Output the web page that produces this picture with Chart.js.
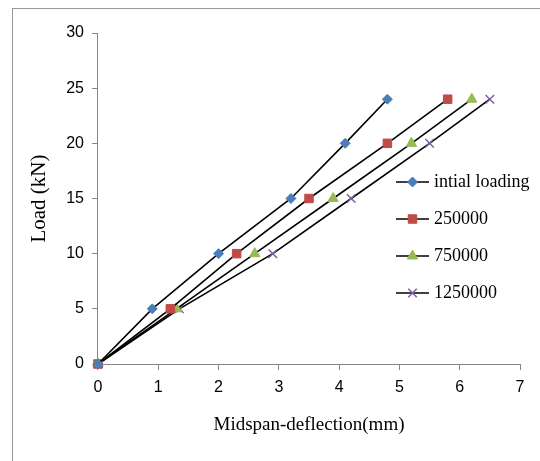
<!DOCTYPE html>
<html><head><meta charset="utf-8">
<script src="https://cdn.jsdelivr.net/npm/chart.js@4/dist/chart.umd.min.js"></script>
<style>
html,body{margin:0;padding:0;background:#fff;}
#wrap{position:relative;width:540px;height:461px;overflow:hidden;}
#frame{position:absolute;left:12px;top:8px;width:600px;height:600px;border-left:1px solid #9a9a9a;border-top:1px solid #9a9a9a;}
canvas{position:absolute;left:0;top:0;}
</style></head><body>
<div id="wrap"><div id="frame"></div><canvas id="c" width="540" height="461"></canvas></div>
<script>
const seriesNames = ["intial loading", "250000", "750000", "1250000"];
const loads = [0, 5, 10, 15, 20, 24];
const defInitial = [0, 0.9, 2.0, 3.2, 4.1, 4.8];
const def250k   = [0, 1.2, 2.3, 3.5, 4.8, 5.8];
const def750k   = [0, 1.3, 2.6, 3.9, 5.2, 6.2];
const def1250k  = [0, 1.35, 2.9, 4.2, 5.5, 6.5];
const markerColors = ["#4A7EBB", "#BE4B48", "#98B954", "#7D60A0"];
const markerStyles = ["rectRot", "rect", "triangle", "crossRot"];
const markerSizes = [5, 6, 6, 6];
const xTitle = "Midspan-deflection(mm)";
const yTitle = "Load (kN)";

const defs = [defInitial, def250k, def750k, def1250k];
const datasets = defs.map((d, i) => ({
  label: seriesNames[i],
  data: d.map((x, j) => ({x: x, y: loads[j]})),
  borderColor: "#000",
  borderWidth: 1.6,
  backgroundColor: markerColors[i],
  pointBackgroundColor: markerColors[i],
  pointBorderColor: markerColors[i],
  pointBorderWidth: markerStyles[i] === "crossRot" ? 1.5 : 1,
  pointStyle: markerStyles[i],
  pointRadius: markerSizes[i],
  showLine: true,
  tension: 0,
  clip: false
}));

const legendPlugin = {
  id: "lineLegend",
  afterDraw(chart) {
    const ctx = chart.ctx;
    const x0 = 396, x1 = 429, tx = 434;
    const ys = [182, 219, 256, 293];
    ctx.save();
    chart.data.datasets.forEach((ds, i) => {
      const y = ys[i];
      ctx.strokeStyle = "#000";
      ctx.lineWidth = 1.6;
      ctx.beginPath(); ctx.moveTo(x0, y); ctx.lineTo(x1, y); ctx.stroke();
      ctx.fillStyle = ds.pointBackgroundColor;
      ctx.strokeStyle = ds.pointBorderColor;
      ctx.lineWidth = ds.pointBorderWidth;
      Chart.helpers.drawPoint(ctx, {pointStyle: ds.pointStyle, radius: ds.pointRadius, borderWidth: ds.pointBorderWidth, rotation: 0}, (x0 + x1) / 2, y);
      ctx.fillStyle = "#000";
      ctx.font = "18px 'Liberation Serif', serif";
      ctx.textBaseline = "middle";
      ctx.textAlign = "left";
      ctx.fillText(ds.label, tx, y);
    });
    ctx.restore();
  }
};

new Chart(document.getElementById("c"), {
  type: "scatter",
  data: { datasets },
  plugins: [legendPlugin],
  options: {
    responsive: false,
    animation: false,
    layout: { padding: { left: 23, top: 33, right: 20, bottom: 21 } },
    plugins: { legend: { display: false }, tooltip: { enabled: false } },
    scales: {
      x: {
        type: "linear", min: 0, max: 7,
        ticks: { stepSize: 1, color: "#000", font: { family: "'Liberation Sans', sans-serif", size: 16 }, padding: 8 },
        grid: { display: true, drawOnChartArea: false, drawTicks: true, tickLength: 6, color: "#868686" },
        border: { display: true, color: "#868686", width: 1 },
        title: { display: true, text: xTitle, color: "#000", font: { family: "'Liberation Serif', serif", size: 19 }, padding: { top: 8 } }
      },
      y: {
        type: "linear", min: 0, max: 30,
        ticks: { stepSize: 5, color: "#000", font: { family: "'Liberation Sans', sans-serif", size: 16 }, padding: 8 },
        grid: { display: true, drawOnChartArea: false, drawTicks: true, tickLength: 6, color: "#868686" },
        border: { display: true, color: "#868686", width: 1 },
        title: { display: true, text: yTitle, color: "#000", font: { family: "'Liberation Serif', serif", size: 21 }, padding: { bottom: 6 } }
      }
    }
  }
});
</script>
</body></html>
